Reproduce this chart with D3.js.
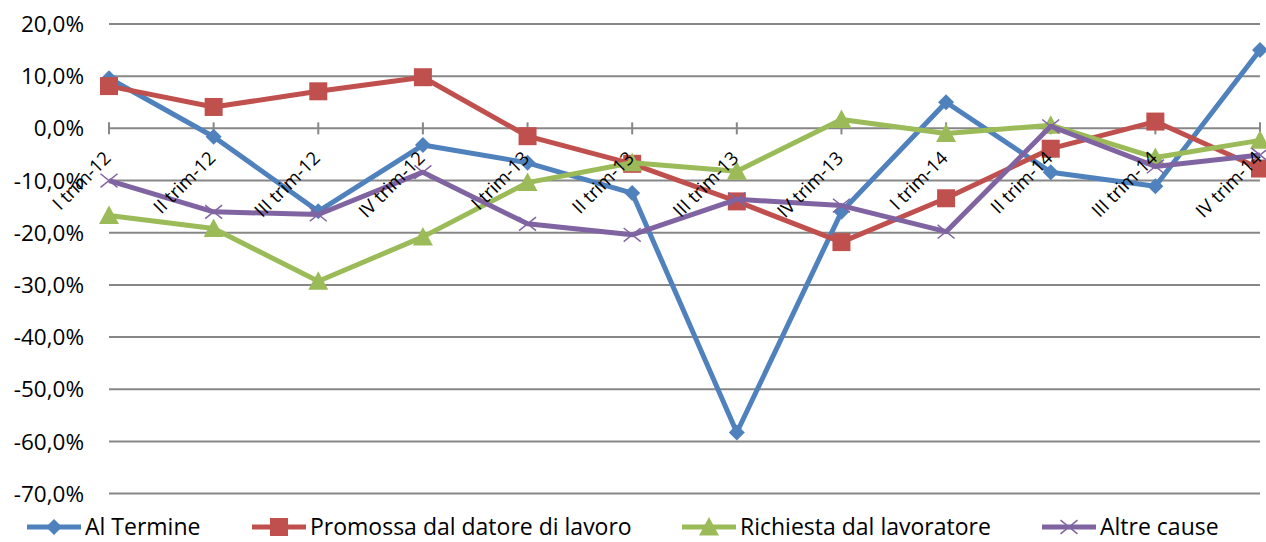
<!DOCTYPE html>
<html><head><meta charset="utf-8">
<script src="https://cdn.jsdelivr.net/npm/d3@7"></script>
<style>body{margin:0;background:#fff}svg{display:block}text{font-family:"Open Sans",Lato,sans-serif;fill:#000}</style>
</head><body><svg id="c" width="1266" height="542"></svg>
<script>
const categories = ["I trim-12","II trim-12","III trim-12","IV trim-12","I trim-13","II trim-13","III trim-13","IV trim-13","I trim-14","II trim-14","III trim-14","IV trim-14"];
const alTermine = [9.6,-1.6,-15.9,-3.2,-6.6,-12.4,-58.3,-16.0,5.0,-8.4,-11.1,15.0];
const promossa = [8.1,4.1,7.1,9.8,-1.5,-6.8,-14.0,-21.8,-13.4,-3.9,1.3,-7.7];
const richiesta = [-16.7,-19.2,-29.3,-20.8,-10.4,-6.6,-8.2,1.7,-1.0,0.6,-5.6,-2.3];
const altre = [-10.0,-16.0,-16.5,-8.4,-18.3,-20.4,-13.6,-14.8,-19.8,0.4,-7.3,-5.1];
const yTicks = [20,10,0,-10,-20,-30,-40,-50,-60,-70];
const seriesNames = ["Al Termine","Promossa dal datore di lavoro","Richiesta dal lavoratore","Altre cause"];
const seriesValues = [alTermine, promossa, richiesta, altre];
const colors = ["#4F81BD","#C0504D","#9BBB59","#8064A2"];
const markers = ["diamond","square","triangle","x"];

const svg = d3.select("#c");
const x = d3.scalePoint().domain(categories).range([109, 1260]);
const y = d3.scaleLinear().domain([-70, 20]).range([493.6, 24]);

// gridlines
svg.append("g").selectAll("line").data(yTicks).join("line")
  .attr("x1", 109).attr("x2", 1260)
  .attr("y1", d => y(d)).attr("y2", d => y(d))
  .attr("stroke", "#878787").attr("stroke-width", 2);

// y labels
svg.append("g").selectAll("text").data(yTicks).join("text")
  .attr("x", 84).attr("y", d => y(d)).attr("dy", "0.36em")
  .attr("text-anchor", "end").style("font-size", "22.5px")
  .text(d => d3.format(".1f")(d).replace(".", ",").replace("−","-") + "%");

// x axis ticks at 0
const ax = svg.append("g");
ax.selectAll("line").data(categories).join("line")
  .attr("x1", d => x(d)).attr("x2", d => x(d))
  .attr("y1", y(0) - 6).attr("y2", y(0) + 6)
  .attr("stroke", "#878787").attr("stroke-width", 2);

function markerPath(type, s) {
  const h = s / 2;
  if (type === "diamond") return `M0,${-h}L${h},0L0,${h}L${-h},0Z`;
  if (type === "square") return `M${-h},${-h}H${h}V${h}H${-h}Z`;
  if (type === "triangle") return `M0,${-h}L${h},${h*0.85}L${-h},${h*0.85}Z`;
  return `M${-h},${-h*0.8}L${h},${h*0.8}M${-h},${h*0.8}L${h},${-h*0.8}`;
}
const sizes = {diamond: 16, square: 18, triangle: 20, x: 17};

const line = d3.line().x((d, i) => x(categories[i])).y(d => y(d));
seriesValues.forEach((vals, si) => {
  const g = svg.append("g");
  g.append("path").attr("d", line(vals)).attr("fill", "none")
    .attr("stroke", colors[si]).attr("stroke-width", 5).attr("stroke-linejoin", "round");
  g.selectAll("path.m").data(vals).join("path").attr("class", "m")
    .attr("transform", (d, i) => `translate(${x(categories[i])},${y(d)})`)
    .attr("d", markerPath(markers[si], sizes[markers[si]]))
    .attr("fill", markers[si] === "x" ? "none" : colors[si])
    .attr("stroke", colors[si]).attr("stroke-width", markers[si] === "x" ? 1.5 : 0);
});

// category labels
svg.append("g").selectAll("text").data(categories).join("text")
  .attr("transform", d => `translate(${x(d) + 3},${y(0) + 31}) rotate(-45)`)
  .attr("text-anchor", "end").style("font-size", "18.5px")
  .text(d => d);

// legend
const legX = [27, 252, 682, 1042];
const lg = svg.append("g");
seriesNames.forEach((n, i) => {
  const gx = legX[i], gy = 527;
  lg.append("line").attr("x1", gx).attr("x2", gx + 54).attr("y1", gy).attr("y2", gy)
    .attr("stroke", colors[i]).attr("stroke-width", 5);
  lg.append("path").attr("transform", `translate(${gx + 27},${gy})`)
    .attr("d", markerPath(markers[i], sizes[markers[i]]))
    .attr("fill", markers[i] === "x" ? "none" : colors[i])
    .attr("stroke", colors[i]).attr("stroke-width", markers[i] === "x" ? 1.5 : 0);
  lg.append("text").attr("x", gx + 58).attr("y", gy).attr("dy", "0.34em")
    .style("font-size", "23px").text(n);
});
</script></body></html>
